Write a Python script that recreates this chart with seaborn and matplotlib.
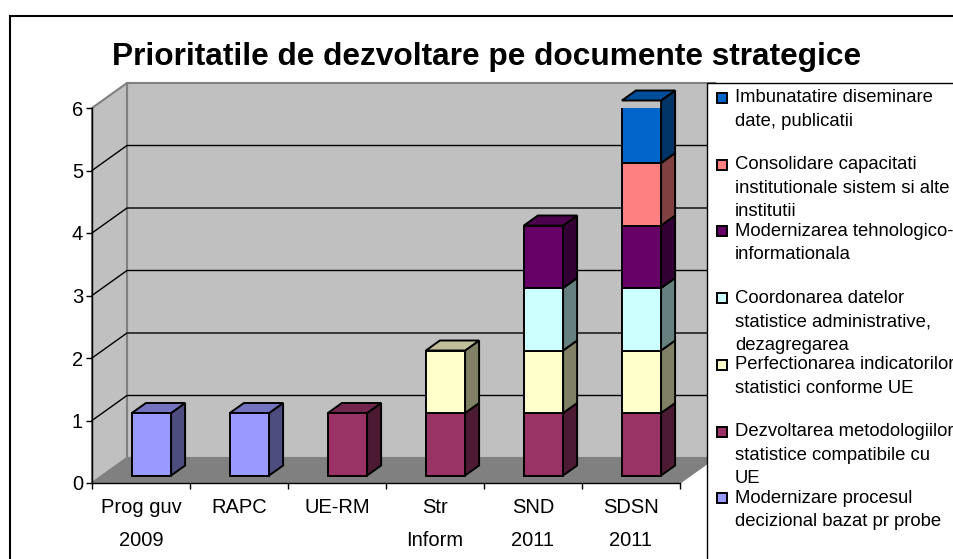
import numpy as np
import pandas as pd
import matplotlib
matplotlib.use("Agg")
import matplotlib.pyplot as plt
import matplotlib.transforms as mtransforms
from matplotlib.patches import Polygon, Rectangle
from matplotlib.lines import Line2D
import seaborn as sns

# ---------------------------------------------------------------------------
# DATA
# ---------------------------------------------------------------------------
documents = ["Prog guv\n2009", "RAPC", "UE-RM", "Str\nInform", "SND\n2011", "SDSN\n2011"]

# series, bottom of the stack first
series_names = [
    "Modernizare procesul\ndecizional bazat pr probe",
    "Dezvoltarea metodologiilor\nstatistice compatibile cu\nUE",
    "Perfectionarea indicatorilor\nstatistici conforme UE",
    "Coordonarea datelor\nstatistice administrative,\ndezagregarea",
    "Modernizarea tehnologico-\ninformationala",
    "Consolidare capacitati\ninstitutionale sistem si alte\ninstitutii",
    "Imbunatatire diseminare\ndate, publicatii",
]
modernizare_proces = [1, 1, 0, 0, 0, 0]
dezvoltare_metod = [0, 0, 1, 1, 1, 1]
perfectionare_ind = [0, 0, 0, 1, 1, 1]
coordonare_date = [0, 0, 0, 0, 1, 1]
modernizare_tehno = [0, 0, 0, 0, 1, 1]
consolidare_cap = [0, 0, 0, 0, 0, 1]
imbunatatire_dis = [0, 0, 0, 0, 0, 1]
series_values = [modernizare_proces, dezvoltare_metod, perfectionare_ind,
                 coordonare_date, modernizare_tehno, consolidare_cap, imbunatatire_dis]

face_colors = ["#9999FF", "#993366", "#FFFFCC", "#CCFFFF", "#660066", "#FF8080", "#0066CC"]

# long table with stack bases
rows = []
for s, (name, vals) in enumerate(zip(series_names, series_values)):
    for i, doc in enumerate(documents):
        rows.append({"document": doc, "series": s, "value": vals[i]})
df = pd.DataFrame(rows)
df["base"] = df.groupby("document", sort=False)["value"].cumsum() - df["value"]
df["top"] = df["base"] + df["value"]
df["stack_total"] = df.groupby("document", sort=False)["value"].transform("sum")

# ---------------------------------------------------------------------------
# STYLE
# ---------------------------------------------------------------------------
sns.set_style("ticks")
plt.rcParams["font.family"] = ["Liberation Sans", "DejaVu Sans"]
for key in ["text.color", "axes.labelcolor", "xtick.color", "ytick.color"]:
    plt.rcParams[key] = "black"

W_PX, H_PX = 954, 559
DPI = 100
DX, DY = 35, 25          # depth of the 3d box in pixels
FRONT, BACK = 0.3, 0.7   # bar position inside the depth
BAR_W = 0.4


def shade(color, f):
    r, g, b = matplotlib.colors.to_rgb(color)
    return (r * f, g * f, b * f)


fig = plt.figure(figsize=(W_PX / DPI, H_PX / DPI), dpi=DPI)
fig.patch.set_facecolor("white")
ax = fig.add_axes([92 / W_PX, 76 / H_PX, (680 - 92) / W_PX, (483 - 108) / H_PX])
ax.set_facecolor("none")

front_tr = ax.transData + mtransforms.ScaledTranslation(
    DX * FRONT / DPI, DY * FRONT / DPI, fig.dpi_scale_trans)

# front faces of the stacked bars
for s, color in enumerate(face_colors):
    sub = df[(df["series"] == s) & (df["value"] > 0)]
    if sub.empty:
        continue
    sns.barplot(data=sub, x="document", y="value", order=documents,
                width=BAR_W, color=color, saturation=1, errorbar=None,
                edgecolor="black", linewidth=1.4,
                bottom=sub["base"].to_numpy(), transform=front_tr,
                zorder=4, ax=ax)

ax.set_xlim(-0.5, len(documents) - 0.5)
ax.set_ylim(0, 6)
ax.set_xlabel("")
ax.set_ylabel("")


def to_px(x, y, d):
    px, py = ax.transData.transform((x, y))
    return (px + DX * d, py + DY * d)


ident = mtransforms.IdentityTransform()
x_lo, x_hi = -0.5, len(documents) - 0.5

# walls and floor
back_wall = [to_px(x_lo, 0, 1), to_px(x_hi, 0, 1), to_px(x_hi, 6, 1), to_px(x_lo, 6, 1)]
side_wall = [to_px(x_lo, 0, 0), to_px(x_lo, 6, 0), to_px(x_lo, 6, 1), to_px(x_lo, 0, 1)]
floor = [to_px(x_lo, 0, 0), to_px(x_hi, 0, 0), to_px(x_hi, 0, 1), to_px(x_lo, 0, 1)]
ax.add_patch(Polygon(back_wall, closed=True, transform=ident, fc="#C0C0C0",
                     ec="#808080", lw=1.5, zorder=0.5, clip_on=False))
ax.add_patch(Polygon(side_wall, closed=True, transform=ident, fc="#C0C0C0",
                     ec="#808080", lw=1.5, zorder=0.5, clip_on=False))
ax.add_patch(Polygon(floor, closed=True, transform=ident, fc="#808080",
                     ec="#808080", lw=1, zorder=0.6, clip_on=False))

for v in range(1, 6):
    pts = np.array([to_px(x_lo, v, 0), to_px(x_lo, v, 1), to_px(x_hi, v, 1)])
    ax.add_line(Line2D(pts[:, 0], pts[:, 1], transform=ident, color="black",
                       lw=1, zorder=0.8, clip_on=False))

# side and top faces of the bars
for _, r in df[df["value"] > 0].iterrows():
    i = documents.index(r["document"])
    x0, x1 = i - BAR_W / 2, i + BAR_W / 2
    color = face_colors[r["series"]]
    side = [to_px(x1, r["base"], FRONT), to_px(x1, r["top"], FRONT),
            to_px(x1, r["top"], BACK), to_px(x1, r["base"], BACK)]
    ax.add_patch(Polygon(side, closed=True, transform=ident, fc=shade(color, 0.5),
                         ec="black", lw=1.4, zorder=3.5, clip_on=False))
    if r["top"] == r["stack_total"]:
        top = [to_px(x0, r["top"], FRONT), to_px(x1, r["top"], FRONT),
               to_px(x1, r["top"], BACK), to_px(x0, r["top"], BACK)]
        ax.add_patch(Polygon(top, closed=True, transform=ident, fc=shade(color, 0.75),
                             ec="black", lw=1.4, zorder=3.5, clip_on=False))

# axes
for sp in ["top", "right"]:
    ax.spines[sp].set_visible(False)
for sp in ["left", "bottom"]:
    ax.spines[sp].set_color("black")
    ax.spines[sp].set_linewidth(1)
    ax.spines[sp].set_zorder(5)

ax.set_yticks(range(0, 7))
ax.tick_params(axis="y", direction="out", length=4.5, width=1, color="black",
               labelsize=14.5, pad=2)
ax.set_xticks(np.arange(x_lo, x_hi + 0.01, 1.0))
ax.set_xticklabels([])
ax.tick_params(axis="x", which="major", direction="out", length=4.5, width=1, color="black")
ax.set_xticks(range(len(documents)), minor=True)
ax.set_xticklabels(documents, minor=True, linespacing=1.9)
ax.tick_params(axis="x", which="minor", length=0, labelsize=14.5, pad=11)

# title
fig.text(487 / W_PX, 1 - 57 / H_PX, "Prioritatile de dezvoltare pe documente strategice",
         ha="center", va="center", fontsize=22.8, fontweight="bold")

# outer chart frame (runs off the right and bottom edge)
fig.add_artist(Rectangle((10 / W_PX, -0.2), 1.5, 1.2 - 16 / H_PX, transform=fig.transFigure,
                         fill=False, ec="black", lw=1.5))

# legend box (also cut by the figure edge)
fig.add_artist(Rectangle((707 / W_PX, -0.2), 1.0, 1.2 - 83 / H_PX, transform=fig.transFigure,
                         fc="white", ec="black", lw=1, zorder=5))

y_first, entry_gap, line_gap = 98, 66.7, 23.5
legend_order = list(range(len(series_names)))[::-1]
for k, s in enumerate(legend_order):
    y0 = y_first + k * entry_gap
    fig.add_artist(Rectangle((717 / W_PX, 1 - (y0 + 5) / H_PX), 10 / W_PX, 10 / H_PX,
                             transform=fig.transFigure, fc=face_colors[s], ec="black",
                             lw=1.4, zorder=6))
    for j, line in enumerate(series_names[s].split("\n")):
        fig.text(735 / W_PX, 1 - (y0 + j * line_gap) / H_PX, line, ha="left",
                 va="center", fontsize=13.3, zorder=7)

fig.savefig("out.png", dpi=DPI)
plt.close(fig)
